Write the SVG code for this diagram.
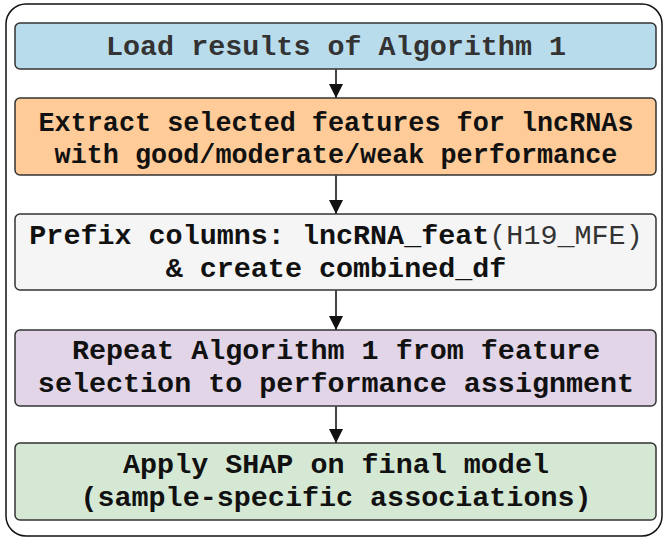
<svg xmlns="http://www.w3.org/2000/svg" width="665" height="540" viewBox="0 0 665 540">
<style>
.box{stroke:#333;stroke-width:1.5}
.t{font-family:"Liberation Mono","DejaVu Sans Mono",monospace;font-weight:bold;font-size:28.4px;fill:#111;text-anchor:middle}
.s{font-size:26.8px}
.c{stroke:#444;stroke-width:2;fill:none}
</style>
<defs>
<marker id="ah" viewBox="0 0 14 14" refX="14" refY="7" markerWidth="14" markerHeight="14" markerUnits="userSpaceOnUse" orient="auto">
<path d="M0,0 L14,7 L0,14 Z" fill="#111"/>
</marker>
</defs>
<rect x="6" y="4" width="656" height="532" rx="20" fill="#fff" stroke="#111" stroke-width="1.5"/>
<g id="n1">
<rect class="box" x="15" y="23" width="641" height="46" rx="5" fill="#b9dcec"/>
<text class="t" x="336" y="55" style="fill:#333">Load results of Algorithm 1</text>
</g>
<g id="n2">
<rect class="box" x="15" y="98" width="641" height="77" rx="5" fill="#ffcc99"/>
<text class="t s" x="336" y="131">Extract selected features for lncRNAs</text>
<text class="t s" x="336" y="163">with good/moderate/weak performance</text>
</g>
<g id="n3">
<rect class="box" x="15" y="214" width="641" height="76" rx="5" fill="#f5f5f5"/>
<text class="t" x="336" y="244">Prefix columns: lncRNA_feat<tspan style="font-weight:normal;fill:#333">(H19_MFE)</tspan></text>
<text class="t" x="336" y="277">&amp; create combined_df</text>
</g>
<g id="n4">
<rect class="box" x="15" y="330" width="641" height="76" rx="5" fill="#e1d5e7"/>
<text class="t" x="336" y="359">Repeat Algorithm 1 from feature</text>
<text class="t" x="336" y="392">selection to performance assignment</text>
</g>
<g id="n5">
<rect class="box" x="15" y="443" width="641" height="77" rx="5" fill="#d5e8d4"/>
<text class="t" x="336" y="473">Apply SHAP on final model</text>
<text class="t" x="336" y="506">(sample-specific associations)</text>
</g>
<g id="connectors">
<line class="c" x1="336" y1="69" x2="336" y2="98" marker-end="url(#ah)"/>
<line class="c" x1="336" y1="175" x2="336" y2="214" marker-end="url(#ah)"/>
<line class="c" x1="336" y1="290" x2="336" y2="330" marker-end="url(#ah)"/>
<line class="c" x1="336" y1="406" x2="336" y2="443" marker-end="url(#ah)"/>
</g>
</svg>
